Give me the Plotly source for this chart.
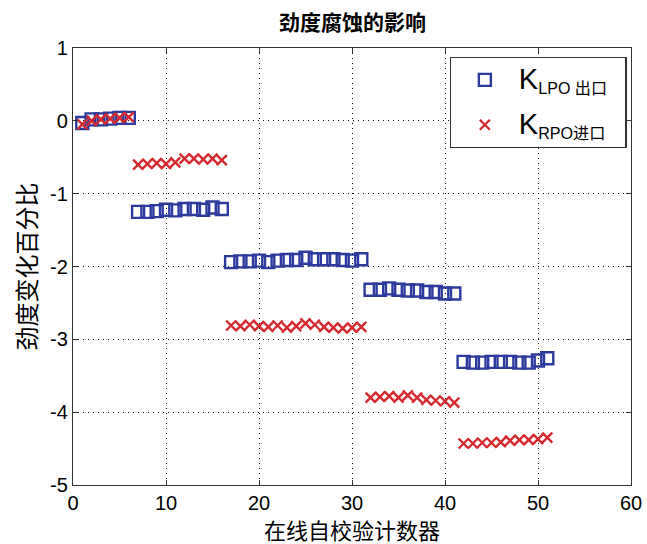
import plotly.graph_objects as go

x_lpo = list(range(1, 7)) + list(range(7, 17)) + list(range(17, 32)) + list(range(32, 42)) + list(range(42, 52))
y_lpo = [-0.03, 0.02, 0.02, 0.03, 0.04, 0.04,
         -1.25, -1.25, -1.24, -1.22, -1.23, -1.21, -1.21, -1.22, -1.19, -1.21,
         -1.94, -1.93, -1.93, -1.92, -1.94, -1.92, -1.91, -1.91, -1.88, -1.90, -1.90, -1.90, -1.91, -1.92, -1.90,
         -2.32, -2.32, -2.30, -2.32, -2.33, -2.33, -2.35, -2.35, -2.37, -2.37,
         -3.31, -3.32, -3.32, -3.31, -3.31, -3.31, -3.32, -3.32, -3.29, -3.26]

x_rpo = list(x_lpo)
y_rpo = [-0.05, 0.00, 0.02, 0.03, 0.04, 0.05,
         -0.60, -0.59, -0.58, -0.59, -0.57, -0.52, -0.52, -0.53, -0.52, -0.54,
         -2.81, -2.82, -2.80, -2.82, -2.83, -2.81, -2.84, -2.82, -2.78, -2.80, -2.83, -2.84, -2.85, -2.84, -2.83,
         -3.80, -3.79, -3.78, -3.80, -3.77, -3.80, -3.83, -3.84, -3.85, -3.87,
         -4.43, -4.43, -4.42, -4.42, -4.41, -4.39, -4.38, -4.38, -4.37, -4.35]

x_ticks = [0, 10, 20, 30, 40, 50, 60]
y_ticks = [1, 0, -1, -2, -3, -4, -5]

title = "劲度腐蚀的影响"
x_title = "在线自校验计数器"
y_title = "劲度变化百分比"

blue = "#2b3a9c"
red = "#d42a2f"
font_fam = "Liberation Sans, Arial, Noto Sans CJK SC, sans-serif"
cjk = "Noto Sans CJK SC"

fig = go.Figure()
fig.add_trace(go.Scatter(
    x=x_lpo, y=y_lpo, mode="markers", legendgroup="a",
    name="<span style='font-size:29px'>K</span><sub>LPO 出口</sub>  ",
    marker=dict(symbol="square-open", size=12, color=blue, line=dict(width=2.4, color=blue)),
))
fig.add_trace(go.Scatter(
    x=x_rpo, y=y_rpo, mode="markers", legendgroup="b",
    name="<span style='font-size:29px'>K</span><sub>RPO进口</sub>  ",
    marker=dict(symbol="x-thin-open", size=10, color=red, line=dict(width=2.4, color=red)),
))

axis_common = dict(
    showline=True, linecolor="#333", linewidth=1.2, mirror="ticks",
    ticks="inside", ticklen=5, tickcolor="#333",
    showgrid=True, gridcolor="#111", griddash="1px,4px", gridwidth=1.2,
    zeroline=False, automargin=False,
    tickfont=dict(size=20, color="black", family=font_fam),
)

fig.update_layout(
    width=647, height=544,
    margin=dict(l=73, r=16, t=48, b=59),
    paper_bgcolor="white", plot_bgcolor="white",
    title=dict(text=f"<b>{title}</b>", x=0.545, xanchor="center", y=0.958, yanchor="middle",
               font=dict(size=21, color="black", family=cjk)),
    xaxis=dict(range=[0, 60], tickvals=x_ticks, ticktext=[str(v) for v in x_ticks],
               **axis_common),
    yaxis=dict(range=[-5, 1], tickvals=y_ticks, ticktext=[str(v) for v in y_ticks],
               title=dict(text=y_title, standoff=6,
                          font=dict(size=24, color="black", family=cjk)),
               **axis_common),
    legend=dict(x=0.675, y=0.979, xanchor="left", yanchor="top",
                bordercolor="#333", borderwidth=1.2, bgcolor="white",
                font=dict(size=23, color="black", family=font_fam),
                itemwidth=58, tracegroupgap=12),
    showlegend=True,
    annotations=[dict(text=x_title, xref="paper", yref="paper", x=0.5, y=-0.1,
                      xanchor="center", yanchor="middle", showarrow=False,
                      font=dict(size=22, color="black", family=cjk))],
)

fig.write_html("out.html")
